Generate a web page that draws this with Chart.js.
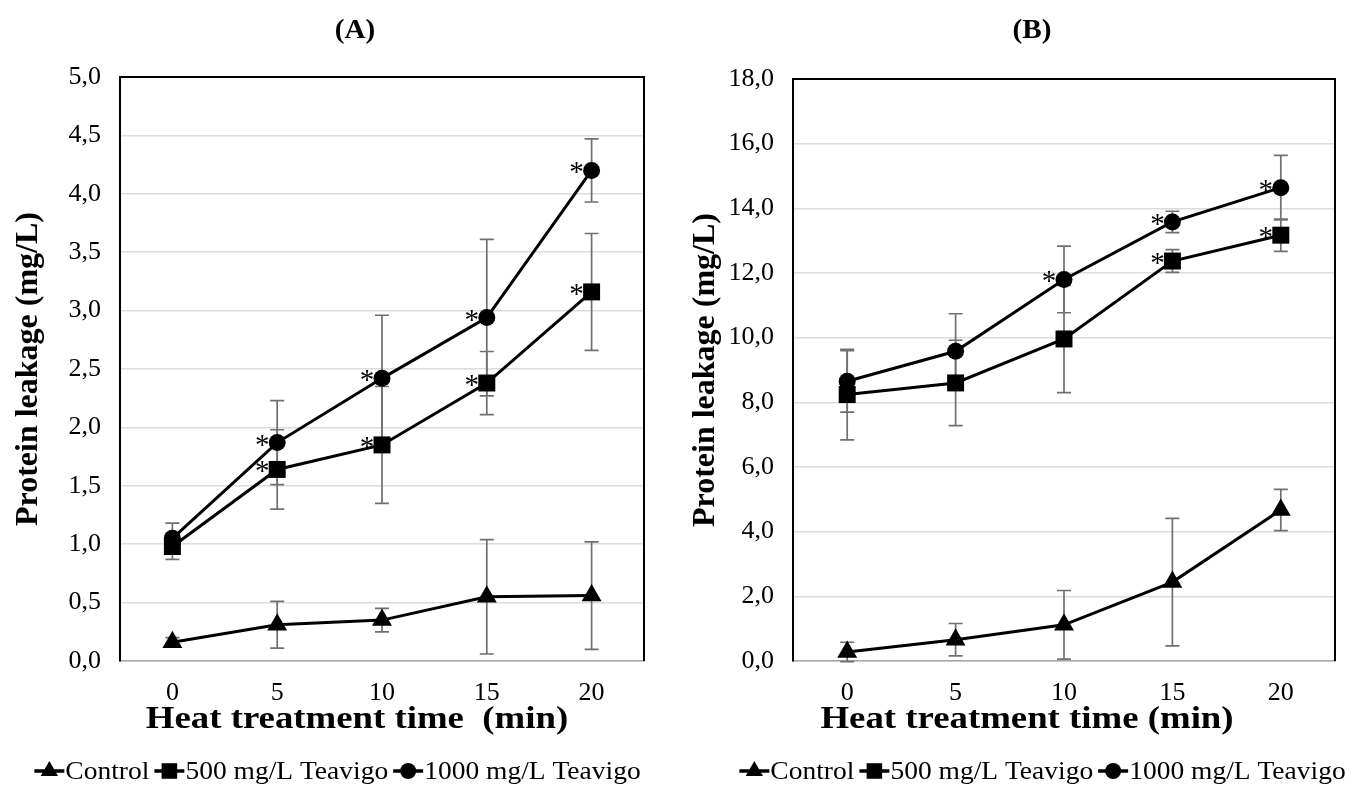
<!DOCTYPE html>
<html lang="en">
<head>
<meta charset="UTF-8">
<title>Protein leakage</title>
<script src="https://cdn.jsdelivr.net/npm/chart.js"></script>
<style>
  body { margin: 0; background: #fff; }
  canvas { position: absolute; top: 0; }
</style>
</head>
<body>
<canvas id="chartA" width="677" height="789" style="left:0"></canvas>
<canvas id="chartB" width="678" height="789" style="left:677px"></canvas>
<script>
// tempos de tratamento (eixo x)
const tempos = ['0', '5', '10', '15', '20']

// painel A
const yTicksA = [0, 0.5, 1, 1.5, 2, 2.5, 3, 3.5, 4, 4.5, 5]
const controleA = [0.16, 0.31, 0.35, 0.55, 0.56]
const controleErroA = [0.04, 0.20, 0.10, 0.49, 0.46]
const t500A = [0.98, 1.64, 1.85, 2.38, 3.16]
const t500ErroA = [0.11, 0.34, 0.50, 0.27, 0.50]
const t1000A = [1.05, 1.87, 2.42, 2.94, 4.20]
const t1000ErroA = [0.13, 0.36, 0.54, 0.67, 0.27]
const sig500A = [false, true, true, true, true]
const sig1000A = [false, true, true, true, true]

// painel B
const yTicksB = [0, 2, 4, 6, 8, 10, 12, 14, 16, 18]
const controleB = [0.28, 0.66, 1.12, 2.44, 4.67]
const controleErroB = [0.30, 0.50, 1.06, 1.97, 0.64]
const t500B = [8.24, 8.60, 9.96, 12.37, 13.17]
const t500ErroB = [1.40, 1.32, 1.66, 0.35, 0.50]
const t1000B = [8.65, 9.58, 11.80, 13.58, 14.64]
const t1000ErroB = [0.95, 1.16, 1.03, 0.33, 1.00]
const sig500B = [false, false, false, true, true]
const sig1000B = [false, false, true, true, true]

const legendaNomes = ['Control', '500 mg/L Teavigo', '1000 mg/L Teavigo']

const FONTE = '"Liberation Serif", "Times New Roman", serif'
Chart.defaults.font.family = FONTE
Chart.defaults.color = '#000'

// texto um pouco mais largo, como na figura original
function textoLargo(ctx, txt, x, y, fator) {
    ctx.save()
    ctx.translate(x, y)
    ctx.scale(fator, 1)
    ctx.fillText(txt, 0, 0)
    ctx.restore()
}

// barras de erro desenhadas antes das linhas
const barrasErro = {
    id: 'barrasErro',
    beforeDatasetsDraw(chart) {
        const ctx = chart.ctx
        const y = chart.scales.y
        ctx.save()
        ctx.strokeStyle = '#707070'
        ctx.lineWidth = 1.7
        chart.data.datasets.forEach(function (ds, d) {
            const meta = chart.getDatasetMeta(d)
            ds.erros.forEach(function (e, i) {
                const px = meta.data[i].x
                const top = y.getPixelForValue(ds.data[i] + e)
                const bot = y.getPixelForValue(ds.data[i] - e)
                ctx.beginPath()
                ctx.moveTo(px, top); ctx.lineTo(px, bot)
                ctx.moveTo(px - 7, top); ctx.lineTo(px + 7, top)
                ctx.moveTo(px - 7, bot); ctx.lineTo(px + 7, bot)
                ctx.stroke()
            })
        })
        ctx.restore()
    }
}

// asteriscos de significância
const asteriscos = {
    id: 'asteriscos',
    afterDatasetsDraw(chart) {
        const ctx = chart.ctx
        ctx.save()
        ctx.font = '29px ' + FONTE
        ctx.textAlign = 'center'
        ctx.textBaseline = 'alphabetic'
        ctx.fillStyle = '#000'
        chart.data.datasets.forEach(function (ds, d) {
            if (!ds.sig) return
            const meta = chart.getDatasetMeta(d)
            ds.sig.forEach(function (s, i) {
                if (!s) return
                const p = meta.data[i]
                ctx.fillText('*', p.x - 15, p.y + 11)
            })
        })
        ctx.restore()
    }
}

function marcador(ctx, tipo, x, y, r) {
    ctx.beginPath()
    if (tipo === 'triangle') {
        ctx.moveTo(x, y - r)
        ctx.lineTo(x + r * 0.866, y + r * 0.5)
        ctx.lineTo(x - r * 0.866, y + r * 0.5)
        ctx.closePath()
    } else if (tipo === 'rect') {
        ctx.rect(x - r * 0.707, y - r * 0.707, r * 1.414, r * 1.414)
    } else {
        ctx.arc(x, y, r, 0, Math.PI * 2)
    }
    ctx.fill()
}

// moldura, títulos e legenda
const decoracao = {
    id: 'decoracao',
    afterDraw(chart, args, opts) {
        const ctx = chart.ctx
        const a = chart.chartArea
        ctx.save()
        ctx.strokeStyle = '#000'
        ctx.lineWidth = 2
        ctx.beginPath()
        ctx.moveTo(a.left, a.top); ctx.lineTo(a.right, a.top); ctx.lineTo(a.right, a.bottom)
        ctx.stroke()

        ctx.fillStyle = '#000'
        ctx.textAlign = 'center'
        ctx.textBaseline = 'middle'
        ctx.font = 'bold 27px ' + FONTE
        textoLargo(ctx, opts.titulo, opts.tituloX, 31, 1.08)
        ctx.font = 'bold 32px ' + FONTE
        textoLargo(ctx, opts.tituloEixoX, opts.eixoX, 720, 1.15)

        // legenda
        const fator = 1.1
        ctx.font = '25px ' + FONTE
        const tipos = ['triangle', 'rect', 'circle']
        const raios = [10, 11, 8]
        const seg = 30
        let total = 0
        legendaNomes.forEach(function (n) { total += seg + 1 + ctx.measureText(n).width * fator + 5 })
        let x = opts.legendaX - total / 2
        const ly = 771
        ctx.textAlign = 'left'
        legendaNomes.forEach(function (n, i) {
            ctx.lineWidth = 3.5
            ctx.beginPath()
            ctx.moveTo(x, ly); ctx.lineTo(x + seg, ly)
            ctx.stroke()
            marcador(ctx, tipos[i], x + seg / 2, ly, raios[i])
            x += seg + 1
            textoLargo(ctx, n, x, ly + 1, fator)
            x += ctx.measureText(n).width * fator + 5
        })
        ctx.restore()
    }
}

function montarGrafico(id, dados, cfg) {
    const estiloLinha = { borderColor: '#000', backgroundColor: '#000', borderWidth: 3, tension: 0, pointBorderWidth: 0 }
    return new Chart(document.getElementById(id), {
        type: 'line',
        data: {
            labels: tempos,
            datasets: [
                Object.assign({ label: legendaNomes[0], data: dados.controle, erros: dados.controleErro, pointStyle: 'triangle', pointRadius: 11.5 }, estiloLinha),
                Object.assign({ label: legendaNomes[1], data: dados.t500, erros: dados.t500Erro, sig: dados.sig500, pointStyle: 'rect', pointRadius: 12 }, estiloLinha),
                Object.assign({ label: legendaNomes[2], data: dados.t1000, erros: dados.t1000Erro, sig: dados.sig1000, pointStyle: 'circle', pointRadius: 8.5 }, estiloLinha)
            ]
        },
        options: {
            responsive: false,
            animation: false,
            events: [],
            layout: { autoPadding: false, padding: { top: cfg.top, right: cfg.right, bottom: 48, left: 0 } },
            scales: {
                x: {
                    offset: true,
                    grid: { display: false },
                    border: { color: '#a6a6a6', width: 1.5 },
                    ticks: { font: { size: 26 }, padding: 9 },
                    afterFit(s) { s.height = 80 }
                },
                y: {
                    min: cfg.yTicks[0],
                    max: cfg.yTicks[cfg.yTicks.length - 1],
                    afterBuildTicks(s) { s.ticks = cfg.yTicks.map(function (v) { return { value: v } }) },
                    grid: { color: '#dcdcdc', lineWidth: 1.5, drawTicks: false },
                    border: { color: '#000', width: 2 },
                    ticks: {
                        font: { size: 26 }, padding: 19,
                        callback(v) { return v.toFixed(1).replace('.', ',') }
                    },
                    title: { display: true, text: 'Protein leakage (mg/L)', font: { size: 32, weight: 'bold' }, padding: { top: 10 } },
                    afterFit(s) { s.width = cfg.left }
                }
            },
            plugins: {
                legend: { display: false },
                tooltip: { enabled: false },
                decoracao: cfg.decor
            }
        },
        plugins: [barrasErro, asteriscos, decoracao]
    })
}

montarGrafico('chartA',
    { controle: controleA, controleErro: controleErroA, t500: t500A, t500Erro: t500ErroA, t1000: t1000A, t1000Erro: t1000ErroA, sig500: sig500A, sig1000: sig1000A },
    { yTicks: yTicksA, left: 120, top: 77, right: 33,
      decor: { titulo: '(A)', tituloX: 355, tituloEixoX: 'Heat treatment time  (min)', eixoX: 357, legendaX: 340 } })

montarGrafico('chartB',
    { controle: controleB, controleErro: controleErroB, t500: t500B, t500Erro: t500ErroB, t1000: t1000B, t1000Erro: t1000ErroB, sig500: sig500B, sig1000: sig1000B },
    { yTicks: yTicksB, left: 116, top: 79, right: 20,
      decor: { titulo: '(B)', tituloX: 355, tituloEixoX: 'Heat treatment time (min)', eixoX: 350, legendaX: 368 } })
</script>
</body>
</html>
